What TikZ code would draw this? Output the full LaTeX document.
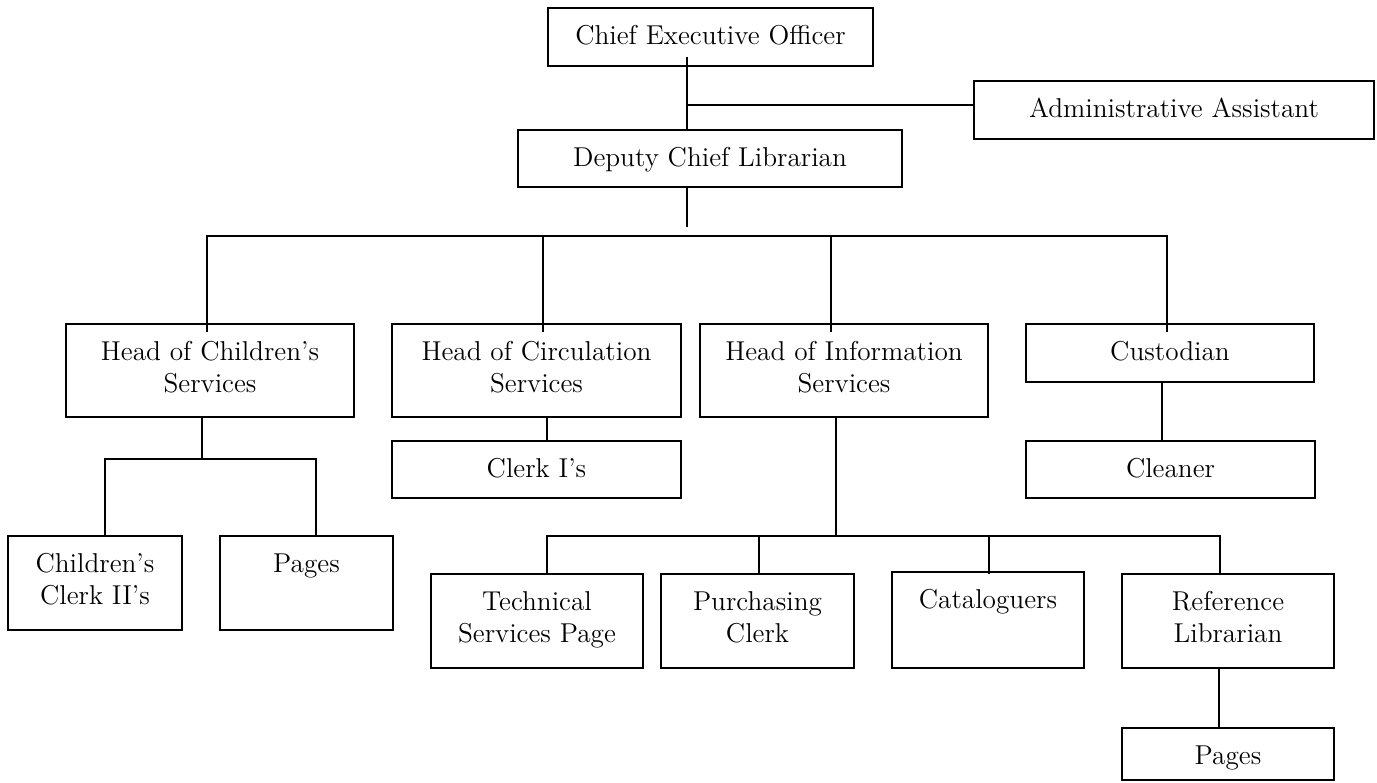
\documentclass[tikz,border=0pt]{standalone}
\usetikzlibrary{calc}
\begin{document}
\begin{tikzpicture}[x=0.44pt,y=-0.44pt]
\tikzset{
  box/.style={draw, line width=0.9pt, rectangle, inner sep=0pt, outer sep=0pt},
  lbl/.style={anchor=north, inner sep=0pt, align=center, font=\fontsize{12}{14.08}\selectfont},
  conn/.style={line width=0.9pt},
}
\newcommand{\orgbox}[6]{%
  \node[box, minimum width={(#4-#2)*0.44pt}, minimum height={(#5-#3)*0.44pt}] (#1) at ({(#2+#4)/2},{(#3+#5)/2}) {};
  \node[lbl] (#1t) at ({(#2+#4)/2},{#3+17}) {#6};}
\useasboundingbox (0,0) rectangle (1377,782);

% boxes
\orgbox{ceo}{548}{8}{873}{66}{Chief Executive Officer}
\orgbox{adm}{974}{81}{1374}{139}{Administrative Assistant}
\orgbox{dep}{518}{130}{902}{187}{Deputy Chief Librarian}
\orgbox{hch}{66}{324}{354}{417}{Head of Children’s\\Services}
\orgbox{hci}{392}{324}{681}{417}{Head of Circulation\\Services}
\orgbox{hin}{700}{324}{988}{417}{Head of Information\\Services}
\orgbox{cus}{1026}{324}{1314}{382}{Custodian}
\orgbox{ccl}{8}{536}{182}{630}{Children’s\\Clerk II’s}
\orgbox{pga}{220}{536}{393}{630}{Pages}
\orgbox{cli}{392}{441}{681}{498}{Clerk I’s}
\orgbox{cln}{1026}{441}{1315}{498}{Cleaner}
\orgbox{tec}{431}{574}{643}{668}{Technical\\Services Page}
\orgbox{pur}{661}{574}{854}{668}{Purchasing\\Clerk}
\orgbox{cat}{892}{572}{1084}{668}{Cataloguers}
\orgbox{ref}{1122}{574}{1334}{668}{Reference\\Librarian}
\orgbox{pgb}{1122}{728}{1334}{780}{Pages}

% coordinates
\coordinate (sp) at (687,0);
\coordinate (ab) at (687,105);
\coordinate (dend) at (687,227);
\coordinate (b1) at (207,236);
\coordinate (b2) at (543,236);
\coordinate (b3) at (831,236);
\coordinate (b4) at (1167,236);
\coordinate (c0) at (202,459);
\coordinate (c1) at (105,459);
\coordinate (c2) at (316,459);
\coordinate (k) at (547,0);
\coordinate (i0) at (836,536);
\coordinate (i1) at (547,536);
\coordinate (i2) at (759,536);
\coordinate (i3) at (989,536);
\coordinate (i4) at (1220,536);
\coordinate (u) at (1162,0);
\coordinate (r) at (1219,0);

% connectors
\draw[conn] ($(ceo.south -| sp)+(0,-9)$) -- (dep.north -| sp);
\draw[conn] (ab) -- (adm.west |- ab);
\draw[conn] (dep.south -| sp) -- (dend);
\draw[conn] ($(hch.north -| b1)+(0,8)$) -- (b1) -- (b4) -- ($(cus.north -| b4)+(0,8)$);
\draw[conn] (b2) -- ($(hci.north -| b2)+(0,8)$);
\draw[conn] (b3) -- ($(hin.north -| b3)+(0,8)$);
\draw[conn] (hch.south -| c0) -- (c0);
\draw[conn] (ccl.north -| c1) -- (c1) -- (c2) -- (pga.north -| c2);
\draw[conn] (hci.south -| k) -- (cli.north -| k);
\draw[conn] (hin.south -| i0) -- (i0);
\draw[conn] (tec.north -| i1) -- (i1) -- (i4) -- (ref.north -| i4);
\draw[conn] (i2) -- (pur.north -| i2);
\draw[conn] (i3) -- ($(cat.north -| i3)+(0,2)$);
\draw[conn] (cus.south -| u) -- (cln.north -| u);
\draw[conn] (ref.south -| r) -- (pgb.north -| r);
\end{tikzpicture}
\end{document}
